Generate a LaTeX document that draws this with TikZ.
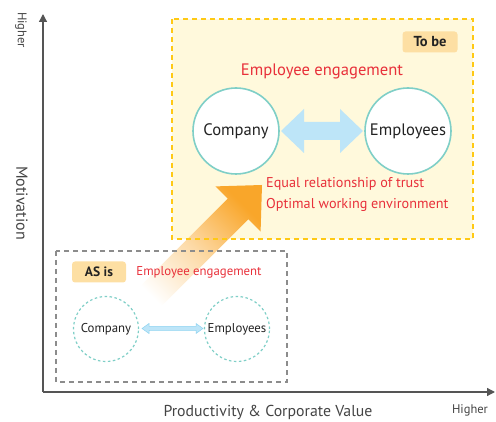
\documentclass[tikz,border=0pt]{standalone}
\usepackage{fontspec}
\setmainfont{PT Sans}
\usetikzlibrary{arrows.meta}
\definecolor{yfill}{HTML}{FFF9DC}
\definecolor{yborder}{HTML}{FFC914}
\definecolor{tagc}{HTML}{FDDFA3}
\definecolor{redt}{HTML}{E8303A}
\definecolor{tealc}{HTML}{7FCFC7}
\definecolor{lblue}{HTML}{BDE5F8}
\definecolor{lblued}{HTML}{8ED3F0}
\definecolor{orng}{HTML}{F9A62A}
\definecolor{axisc}{HTML}{555555}
\definecolor{axist}{HTML}{444444}
\definecolor{grayd}{HTML}{8C8C8C}
\definecolor{txt}{HTML}{222222}
\tikzset{
  bigcircle/.style={circle, draw=tealc, line width=1.6pt, fill=white, minimum size=86pt, inner sep=0pt, text=txt, font=\fontsize{16.6}{18}\selectfont},
  smallcircle/.style={circle, draw=tealc, line width=1.2pt, dash pattern=on 2.5pt off 2.5pt, fill=white, minimum size=65pt, inner sep=0pt, text=txt, font=\fontsize{12.8}{14}\selectfont},
  tag/.style={fill=tagc, rounded corners=3pt, text=txt, font=\bfseries, inner sep=0pt},
  redtext/.style={text=redt, anchor=west, inner sep=0pt},
  axislabel/.style={text=axist, inner sep=0pt},
  axisline/.style={draw=axisc, line width=1.3pt, -{Triangle[length=8pt,width=8pt]}},
}
\begin{document}
\begin{tikzpicture}[x=1pt,y=-1pt]
\useasboundingbox (0,0) rectangle (496,422);
% yellow box fill
\fill[yfill] (172,19) rectangle (473,239);
% big orange arrow
\shade[bottom color=white, top color=orng, middle color=orng!42, shading angle=-45]
  (131.75,294.75) -- (227.75,198.75) -- (215.4,186.4) -- (262,185) -- (260.6,231.6)
  -- (248.25,219.25) -- (152.25,315.25) -- cycle;
% box borders
\draw[yborder, line width=2pt, dash pattern=on 5pt off 4pt] (172,19) rectangle (473,239);
\draw[grayd, line width=2pt, dash pattern=on 5pt off 4pt] (56,251) rectangle (287,382);
% axes
\coordinate (O) at (43,392);
\coordinate (Ytop) at (43,14);
\coordinate (Xend) at (495,392);
\draw[axisline] (O) -- (Ytop);
\draw[axisline] (O) -- (Xend);
\node[axislabel, rotate=-90, font=\fontsize{12.5}{14}\selectfont] (yh) at (21,30) {Higher};
\node[axislabel, rotate=-90, font=\fontsize{16}{18}\selectfont] (ym) at (22,203) {Motivation};
\node[axislabel, font=\fontsize{15.8}{18}\selectfont] (xp) at (268,412) {Productivity \& Corporate Value};
\node[axislabel, font=\fontsize{12.5}{14}\selectfont] (xh) at (470,410) {Higher};
% To be
\node[tag, minimum width=55pt, minimum height=21pt, font=\bfseries\fontsize{14.5}{16}\selectfont] (tobe) at (430,42) {To be};
\node[text=redt, inner sep=0pt, font=\fontsize{16.6}{19}\selectfont] (ee1) at (322,71) {Employee engagement};
\node[bigcircle] (C1) at (236,131) {Company};
\node[bigcircle] (E1) at (408,131) {Employees};
\fill[lblue] (281,131) -- (304,109) -- (304,122) -- (340,122) -- (340,109) -- (363,131)
  -- (340,153) -- (340,140) -- (304,140) -- (304,153) -- cycle;
\node[redtext, font=\fontsize{14.2}{16}\selectfont] (eq) at (266,184) {Equal relationship of trust};
\node[redtext, font=\fontsize{14.2}{16}\selectfont] (op) at (266,205) {Optimal working environment};
% AS is
\node[tag, minimum width=54pt, minimum height=21pt, font=\bfseries\fontsize{13.5}{15}\selectfont] (asis) at (99,272) {AS is};
\node[text=redt, inner sep=0pt, font=\fontsize{12.8}{14}\selectfont] (ee2) at (199,272) {Employee engagement};
\node[smallcircle] (C2) at (106,329) {Company};
\node[smallcircle] (E2) at (237,329) {Employees};
\draw[lblued, line width=0.5pt, fill=lblue] (142,328.5) -- (149,323.5) -- (149,326.5) -- (196,326.5) -- (196,323.5) -- (203,328.5)
  -- (196,333.5) -- (196,330.5) -- (149,330.5) -- (149,333.5) -- cycle;
\end{tikzpicture}
\end{document}
